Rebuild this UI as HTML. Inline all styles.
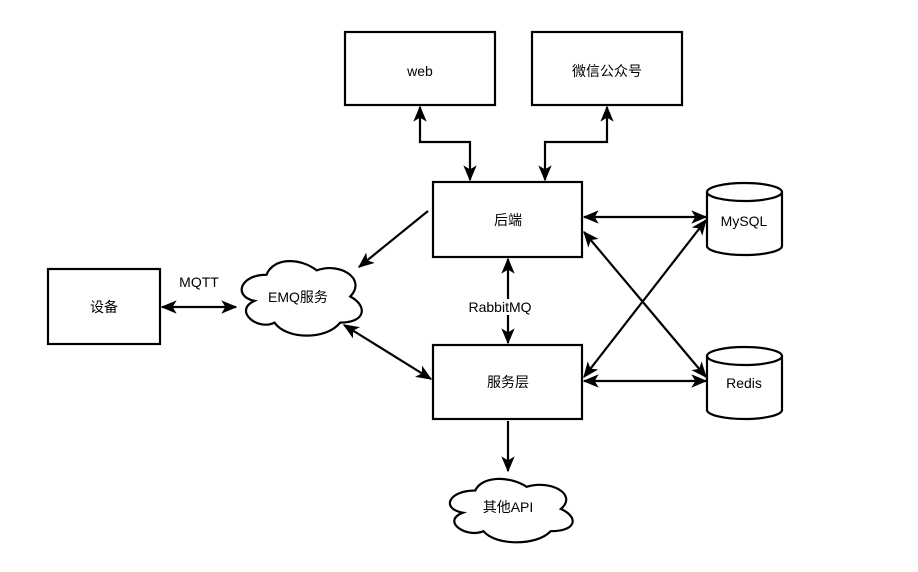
<!DOCTYPE html>
<html><head><meta charset="utf-8"><style>
html,body{margin:0;padding:0;background:#fff;}
svg text{font-family:"Liberation Sans","Noto Sans CJK SC",sans-serif;font-size:14px;fill:#000;}
</style></head><body>
<svg width="918" height="567" viewBox="0 0 918 567" xmlns="http://www.w3.org/2000/svg">
<defs>
<marker id="h" viewBox="0 0 12 10" refX="11" refY="5" markerWidth="16" markerHeight="14" markerUnits="userSpaceOnUse" orient="auto-start-reverse">
<path d="M0,0 L12,5 L0,10 L3,5 Z" fill="#000"/>
</marker>
</defs>
<g fill="#fff" stroke="#000" stroke-width="2.2">
<rect x="345" y="32" width="150" height="73"/>
<rect x="532" y="32" width="150" height="73"/>
<rect x="433" y="182" width="149" height="75"/>
<rect x="433" y="345" width="149" height="74"/>
<rect x="48" y="269" width="112" height="75"/>
<path d="M707,192 a37.5,9 0 0 1 75,0 v54 a37.5,9 0 0 1 -75,0 Z M707,192 a37.5,9 0 0 0 75,0"/>
<path d="M707,356 a37.5,9 0 0 1 75,0 v54 a37.5,9 0 0 1 -75,0 Z M707,356 a37.5,9 0 0 0 75,0"/>
<g transform="translate(233,253) scale(134,87)"><path vector-effect="non-scaling-stroke" d="M0.25,0.25 C0.05,0.25 0,0.5 0.16,0.55 C0,0.66 0.18,0.9 0.31,0.8 C0.4,1 0.7,1 0.8,0.8 C1,0.8 1,0.6 0.875,0.5 C1,0.3 0.8,0.1 0.625,0.2 C0.5,0.05 0.3,0.05 0.25,0.25 Z"/></g>
<g transform="translate(441,472) scale(137,74)"><path vector-effect="non-scaling-stroke" d="M0.25,0.25 C0.05,0.25 0,0.5 0.16,0.55 C0,0.66 0.18,0.9 0.31,0.8 C0.4,1 0.7,1 0.8,0.8 C1,0.8 1,0.6 0.875,0.5 C1,0.3 0.8,0.1 0.625,0.2 C0.5,0.05 0.3,0.05 0.25,0.25 Z"/></g>
</g>
<g fill="none" stroke="#000" stroke-width="2.2">
<path d="M420,107 V142 H470 V180" marker-start="url(#h)" marker-end="url(#h)"/>
<path d="M607,107 V142 H545 V180" marker-start="url(#h)" marker-end="url(#h)"/>
<path d="M428,211 L359,267" marker-end="url(#h)"/>
<path d="M162,307 L236,307" marker-start="url(#h)" marker-end="url(#h)"/>
<path d="M344,325 L431,379" marker-start="url(#h)" marker-end="url(#h)"/>
<path d="M508,259 V343" marker-start="url(#h)" marker-end="url(#h)"/>
<path d="M584,217 H706" marker-start="url(#h)" marker-end="url(#h)"/>
<path d="M584,381 H706" marker-start="url(#h)" marker-end="url(#h)"/>
<path d="M584,232 L706,377" marker-start="url(#h)" marker-end="url(#h)"/>
<path d="M584,377 L706,220" marker-start="url(#h)" marker-end="url(#h)"/>
<path d="M508,421 V471" marker-end="url(#h)"/>
</g>
<rect x="465" y="299" width="70" height="16" fill="#fff"/>
<g text-anchor="middle">
<text x="420" y="76">web</text>
<text x="607" y="76">微信公众号</text>
<text x="508" y="225">后端</text>
<text x="508" y="387">服务层</text>
<text x="104" y="312">设备</text>
<text x="744" y="226">MySQL</text>
<text x="744" y="388">Redis</text>
<text x="298" y="302">EMQ服务</text>
<text x="508" y="512">其他API</text>
<text x="500" y="312">RabbitMQ</text>
<text x="199" y="287">MQTT</text>
</g>
</svg>
</body></html>
